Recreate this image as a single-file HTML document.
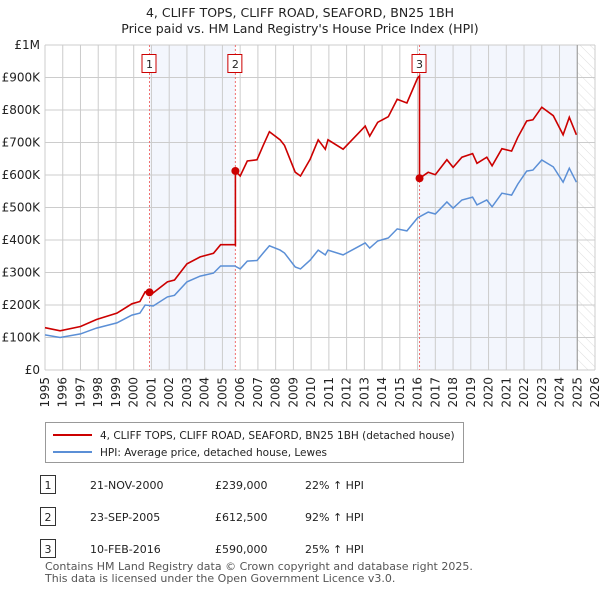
<!DOCTYPE html>
<html><head><meta charset="utf-8">
<style>
body{margin:0;background:#fff;font-family:"Liberation Sans","DejaVu Sans",sans-serif;}
svg text{font-family:"DejaVu Sans","Liberation Sans",sans-serif;}
</style></head>
<body>
<svg id="c" width="600" height="590" viewBox="0 0 600 590" xmlns="http://www.w3.org/2000/svg">
<defs>
<pattern id="hatch" width="7" height="7" patternUnits="userSpaceOnUse" patternTransform="rotate(-45)">
<line x1="0" y1="0" x2="0" y2="7" stroke="#d6d6d6" stroke-width="0.8"/>
</pattern>
</defs>
<text x="300" y="17" text-anchor="middle" font-size="12.5" fill="#222">4, CLIFF TOPS, CLIFF ROAD, SEAFORD, BN25 1BH</text>
<text x="300" y="33" text-anchor="middle" font-size="12.5" fill="#222">Price paid vs. HM Land Registry's House Price Index (HPI)</text>
<g id="plot"></g>
<g>
<rect x="45.5" y="422.5" width="418" height="40" fill="#fff" stroke="#999"/>
<line x1="53" y1="435" x2="92" y2="435" stroke="#cc0000" stroke-width="2"/>
<text x="100" y="439" font-size="10.5" fill="#222">4, CLIFF TOPS, CLIFF ROAD, SEAFORD, BN25 1BH (detached house)</text>
<line x1="53" y1="452" x2="92" y2="452" stroke="#5b8fd6" stroke-width="2"/>
<text x="100" y="456" font-size="10.5" fill="#222">HPI: Average price, detached house, Lewes</text>
</g>
<g id="table" font-size="11" fill="#222"></g>
<text x="45" y="570" font-size="11" fill="#555">Contains HM Land Registry data © Crown copyright and database right 2025.</text>
<text x="45" y="582" font-size="11" fill="#555">This data is licensed under the Open Government Licence v3.0.</text>
</svg>
<script>
const hpiYears=[1995.0,1995.85,1997.0,1997.9,1999.05,1999.9,2000.35,2000.65,2001.1,2001.9,2002.3,2003.0,2003.75,2004.5,2004.9,2005.7,2006.0,2006.4,2006.95,2007.3,2007.65,2008.25,2008.5,2009.1,2009.4,2009.95,2010.4,2010.8,2010.95,2011.8,2012.75,2013.05,2013.3,2013.75,2014.35,2014.85,2015.4,2016.0,2016.6,2017.0,2017.65,2018.0,2018.5,2019.1,2019.35,2019.9,2020.2,2020.75,2021.3,2021.65,2022.15,2022.5,2023.0,2023.65,2024.2,2024.55,2024.95];
const hpiValues=[108,100,111,129,145,169,175,200,197,225,230,271,289,298,320,320,311,335,337,360,382,369,360,317,311,338,369,354,369,354,382,391,375,397,406,434,428,468,486,480,517,498,523,532,508,523,502,544,538,572,612,615,646,625,578,621,578];
const saleDates=[2000.89,2005.73,2016.11];
const saleLabels=["21-NOV-2000","23-SEP-2005","10-FEB-2016"];
const salePrices=[239,612.5,590];
const salePriceText=["£239,000","£612,500","£590,000"];
const saleHpiText=["22% ↑ HPI","92% ↑ HPI","25% ↑ HPI"];
const yTicks=[0,100,200,300,400,500,600,700,800,900,1000];
const yTickLabels=["£0","£100K","£200K","£300K","£400K","£500K","£600K","£700K","£800K","£900K","£1M"];
const xTicks=[1995,1996,1997,1998,1999,2000,2001,2002,2003,2004,2005,2006,2007,2008,2009,2010,2011,2012,2013,2014,2015,2016,2017,2018,2019,2020,2021,2022,2023,2024,2025,2026];
const dataEnd=2025.0;

const X0=45,X1=595,Y0=370,Y1=45;
const xs=t=>X0+(t-1995)/(2026-1995)*(X1-X0);
const ys=v=>Y0-v/1000*(Y0-Y1);
const NS="http://www.w3.org/2000/svg";
const plot=document.getElementById('plot');
function mk(tag,attrs,parent){const e=document.createElementNS(NS,tag);for(const k in attrs)e.setAttribute(k,attrs[k]);(parent||plot).appendChild(e);return e;}
function hpiAt(t){for(let i=0;i<hpiYears.length-1;i++){if(t<=hpiYears[i+1]){const f=(t-hpiYears[i])/(hpiYears[i+1]-hpiYears[i]);return hpiValues[i]+f*(hpiValues[i+1]-hpiValues[i]);}}return hpiValues[hpiValues.length-1];}

let r=mk('rect',{x:xs(saleDates[0]),y:Y1,width:xs(saleDates[1])-xs(saleDates[0]),height:Y0-Y1,fill:'#f3f6fd'});


r=mk('rect',{x:xs(saleDates[2]),y:Y1,width:xs(dataEnd)-xs(saleDates[2]),height:Y0-Y1,fill:'#f3f6fd'});


r=mk('rect',{x:xs(dataEnd),y:Y1,width:X1-xs(dataEnd),height:Y0-Y1,fill:'url(#hatch)'});



yTicks.forEach((v,i)=>{
 const l=mk('line',{x1:X0,x2:X1,y1:ys(v),y2:ys(v),stroke:'#ccc','stroke-width':1});
 
 
 const t=mk('text',{x:X0-5,y:ys(v)+4,'text-anchor':'end','font-size':12,fill:'#222'});
 t.textContent=yTickLabels[i];
 
 
});
xTicks.forEach(yr=>{
 const l=mk('line',{x1:xs(yr),x2:xs(yr),y1:Y1,y2:Y0,stroke:'#ccc','stroke-width':1});
 
 
 const t=mk('text',{x:0,y:0,'text-anchor':'end','font-size':12,fill:'#222',transform:`translate(${xs(yr)+4},${Y0+7}) rotate(-90)`});
 t.textContent=yr;
 
 
});
let el=mk('line',{x1:xs(dataEnd),x2:xs(dataEnd),y1:Y1,y2:Y0,stroke:'#999','stroke-width':1});



saleDates.forEach((d,i)=>{
 const l=mk('line',{x1:xs(d),x2:xs(d),y1:Y1,y2:Y0,stroke:'#f07070','stroke-width':1,'stroke-dasharray':'2,2'});
 
 
 const b=mk('rect',{x:xs(d)-7.5,y:54.5,width:14,height:18,fill:'#fff',stroke:'#cc0000'});
 
 
 const t=mk('text',{x:xs(d),y:68,'text-anchor':'middle','font-size':11,fill:'#222'});
 t.textContent=String(i+1);
 
 
});

const hp=hpiYears.map((t,i)=>xs(t).toFixed(1)+','+ys(hpiValues[i]).toFixed(1)).join(' ');
el=mk('polyline',{points:hp,fill:'none',stroke:'#5b8fd6','stroke-width':1.5});



function saleIdx(t){let k=0;for(let i=0;i<saleDates.length;i++)if(t>=saleDates[i])k=i;return k;}
const pts=[];
const times=hpiYears.concat(saleDates).sort((a,b)=>a-b);
times.forEach(t=>{
 const k=saleIdx(t);
 if(saleDates.includes(t)&&k>0){pts.push([t,salePrices[k-1]*hpiAt(t)/hpiAt(saleDates[k-1])]);}
 pts.push([t,salePrices[k]*hpiAt(t)/hpiAt(saleDates[k])]);
});
el=mk('polyline',{points:pts.map(p=>xs(p[0]).toFixed(1)+','+ys(p[1]).toFixed(1)).join(' '),fill:'none',stroke:'#cc0000','stroke-width':1.6});


saleDates.forEach((d,i)=>{
 const c=mk('circle',{cx:xs(d),cy:ys(salePrices[i]),r:4,fill:'#cc0000'});
 
 
});

const tb=document.getElementById('table');
saleDates.forEach((d,i)=>{
 const y=488+i*32;
 const b=mk('rect',{x:40.5,y:y-12.5,width:15,height:18,fill:'#fff',stroke:'#333'},tb);
 
 
 const cols=[[String(i+1),48,'middle'],[saleLabels[i],90,'start'],[salePriceText[i],215,'start'],[saleHpiText[i],305,'start']];
 cols.forEach((c,j)=>{
  const t=mk('text',{x:c[1],y:y+1,'text-anchor':c[2],'font-size':11,fill:'#222'},tb);
  t.textContent=c[0];
  
  
 });
});
</script>
</body></html>
